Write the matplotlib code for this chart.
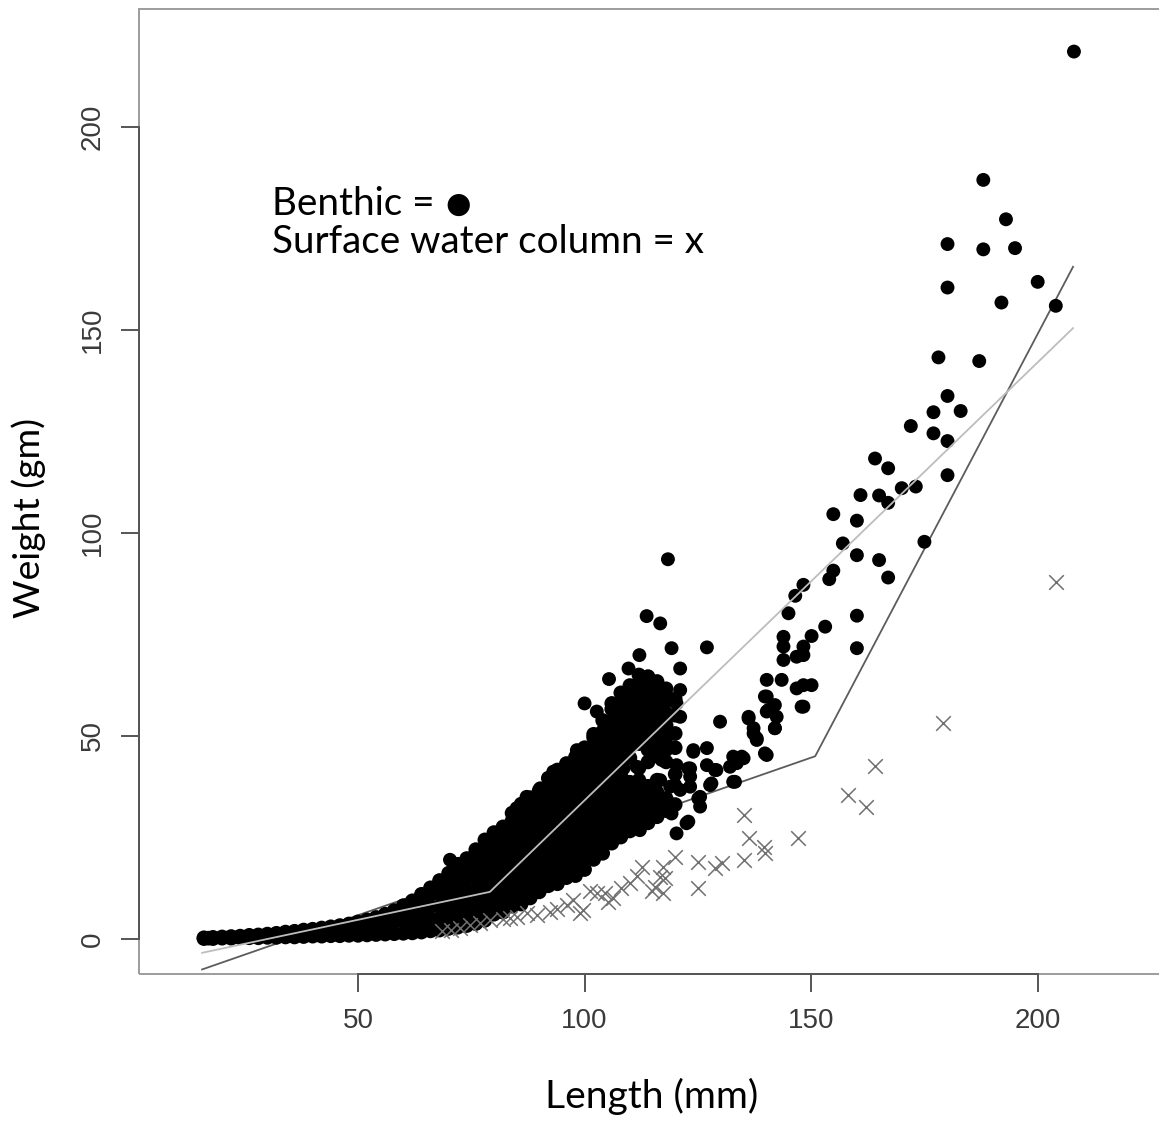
import matplotlib
matplotlib.use("Agg")
import matplotlib.pyplot as plt
from matplotlib.patches import Rectangle

# ---------------- data ----------------
# dense benthic cloud: one column of weights per length
cloud_len = [16, 17, 18, 20, 22, 24, 26, 28, 30, 32, 34, 36, 38, 40, 42, 44, 46, 48,
             50, 52, 54, 56, 58, 60, 62, 64, 66, 68, 70, 72, 74, 76, 78, 80, 82, 84,
             86, 88, 90, 92, 94, 96, 98, 100, 102, 104, 106, 108, 110, 112, 114,
             116, 118, 120]
cloud_wts = [
    [0.1, 0.3], [0.2], [0.1, 0.4], [0.2, 0.5], [0.2, 0.6], [0.3, 0.7], [0.3, 0.9],
    [0.3, 1.0], [0.4, 1.2], [0.4, 1.4], [0.5, 1.7], [0.5, 1.9], [0.6, 2.2],
    [0.7, 2.4], [0.7, 2.7], [0.8, 3.0], [0.8, 2.2, 3.3], [0.9, 2.4, 3.7],
    [0.9, 2.6, 4.2], [1.0, 2.8, 4.7], [1.1, 3.2, 5.3], [1.2, 3.6, 6.1],
    [1.3, 4.2, 7.0], [1.4, 4.4, 7.4, 8.2], [1.5, 3.9, 6.9, 9.4],
    [1.7, 4.5, 7.5, 10.5, 11.0], [2.0, 5.0, 8.0, 11.0, 12.6],
    [2.2, 4.9, 7.9, 10.9, 13.9, 14.4], [2.6, 5.4, 8.4, 11.4, 14.4, 16.2],
    [2.9, 5.9, 8.9, 11.9, 14.9, 17.9, 18.4], [3.3, 6.4, 9.4, 12.4, 15.4, 18.4, 19.8],
    [3.8, 6.1, 9.1, 12.1, 15.1, 18.1, 21.1, 22.0],
    [4.6, 7.6, 10.6, 13.6, 16.6, 19.6, 22.6, 24.4],
    [6.1, 9.1, 12.1, 15.1, 18.1, 21.1, 24.1, 26.2],
    [6.6, 9.6, 12.6, 15.6, 18.6, 21.6, 24.6, 27.6],
    [8.1, 11.1, 14.1, 17.1, 20.1, 23.1, 26.1, 29.1, 31.0],
    [8.6, 11.6, 14.6, 17.6, 20.6, 23.6, 26.6, 29.6, 32.6, 33.2],
    [10.1, 13.1, 16.1, 19.1, 22.1, 25.1, 28.1, 31.1, 34.1, 34.8],
    [11.6, 14.6, 17.6, 20.6, 23.6, 26.6, 29.6, 32.6, 35.6, 36.6],
    [13.1, 16.1, 19.1, 22.1, 25.1, 28.1, 31.1, 34.1, 37.1, 39.6],
    [13.6, 16.6, 19.6, 22.6, 25.6, 28.6, 31.6, 34.6, 37.6, 40.6, 41.6],
    [15.1, 18.1, 21.1, 24.1, 27.1, 30.1, 33.1, 36.1, 39.1, 42.1, 43.2],
    [15.6, 18.6, 21.6, 24.6, 27.6, 30.6, 33.6, 36.6, 39.6, 42.6, 44.8],
    [17.1, 20.1, 23.1, 26.1, 29.1, 32.1, 35.1, 38.1, 41.1, 44.1, 47.1],
    [19.6, 22.6, 25.6, 28.6, 31.6, 34.6, 37.6, 40.6, 43.6, 46.6, 49.6, 50.4],
    [21.1, 24.1, 27.1, 30.1, 33.1, 36.1, 39.1, 42.1, 45.1, 48.1, 51.1, 53.8],
    [23.6, 26.6, 29.6, 32.6, 35.6, 38.6, 41.6, 44.6, 47.6, 50.6, 53.6, 56.6, 58.0],
    [25.1, 28.1, 31.1, 34.1, 37.1, 40.1, 43.1, 46.1, 49.1, 52.1, 55.1, 58.1, 60.6],
    [26.6, 29.6, 32.6, 35.6, 38.6, 44.6, 47.6, 50.6, 53.6, 56.6, 59.6, 62.4],
    [27.1, 30.1, 33.1, 36.1, 39.1, 42.1, 48.1, 51.1, 54.1, 57.1, 60.1, 63.1, 65.0],
    [28.6, 31.6, 34.6, 37.6, 43.6, 46.6, 49.6, 52.6, 55.6, 58.6, 61.6, 64.6],
    [30.1, 33.1, 36.1, 39.1, 45.1, 48.1, 51.1, 54.1, 57.1, 60.1, 63.4],
    [31.6, 34.6, 43.6, 46.6, 49.6, 52.6, 55.6, 58.6, 61.6],
    [33.1, 40.6, 47.1, 50.6, 55.1, 59.1],
]

# scattered benthic fish
benthic_len = [208.0, 188.0, 193.0, 180.1, 188.0, 195.0, 180.1, 200.0, 192.0, 204.0,
               178.1, 187.1, 180.1, 177.0, 183.0, 172.0, 177.0, 180.1, 164.1, 167.0,
               180.1, 170.0, 173.1, 160.9, 165.0, 167.0, 154.9, 160.1, 157.0, 175.0,
               160.1, 165.0, 167.0, 154.9, 154.0, 148.3, 146.5, 160.1, 153.1, 150.1,
               148.3, 148.3, 160.1, 148.3, 150.1, 148.3, 145.0, 143.9, 143.9, 143.9,
               146.8, 140.2, 143.5, 146.8, 139.8, 140.6, 142.4, 142.0, 136.2, 137.3,
               138.0, 129.9, 139.8, 134.7, 133.6, 132.1, 127.0, 124.0, 127.0, 128.8,
               132.8, 128.0, 125.5, 123.3, 123.3, 120.3, 120.0, 121.1, 117.0, 116.7,
               118.9, 117.4, 119.2, 122.9, 120.3, 114.4, 115.5, 117.4, 113.0, 110.4,
               110.0, 108.6, 111.5, 142.0, 147.9, 140.2, 125.1, 125.5, 123.3, 127.7,
               122.5, 112.2, 135.1, 140.2, 113.7, 116.7, 119.2, 127.0, 112.1, 121.1,
               109.7, 105.4, 100.0, 102.7, 121.1, 121.1, 98.3, 120.3, 118.4, 87.2,
               90.2, 93.1, 85.0, 70.3, 122.9, 124.0, 132.8, 129.1, 133.2, 136.2,
               137.3, 138.0, 140.2, 142.0]
benthic_wt = [218.5, 186.9, 177.2, 171.1, 169.8, 170.1, 160.4, 161.8, 156.7, 155.9,
              143.2, 142.3, 133.7, 129.7, 130.0, 126.3, 124.5, 122.6, 118.3, 115.9,
              114.2, 111.0, 111.4, 109.3, 109.2, 107.4, 104.6, 103.0, 97.4, 97.8,
              94.5, 93.3, 89.0, 90.7, 88.6, 87.2, 84.5, 79.6, 76.9, 74.6,
              72.0, 69.9, 71.6, 62.5, 62.5, 57.2, 80.2, 74.4, 72.0, 68.7,
              69.5, 63.8, 63.8, 61.7, 59.7, 56.4, 54.7, 51.9, 54.3, 50.6,
              49.0, 53.5, 45.7, 44.9, 43.3, 42.4, 47.0, 46.1, 42.8, 41.6,
              38.7, 38.3, 35.0, 37.5, 42.0, 42.8, 37.9, 36.7, 44.1, 39.1,
              37.5, 33.4, 30.9, 28.9, 26.0, 33.8, 32.2, 31.8, 29.7, 29.3,
              26.8, 42.0, 42.4, 57.6, 57.2, 56.0, 34.6, 32.6, 40.0, 37.9,
              28.5, 26.8, 44.5, 45.3, 79.5, 77.7, 71.6, 71.8, 69.9, 66.6,
              66.6, 64.0, 58.0, 56.0, 61.3, 54.7, 46.5, 58.0, 93.5, 35.0,
              37.1, 41.2, 32.2, 19.5, 42.0, 46.5, 44.9, 41.6, 38.7, 54.7,
              51.9, 49.4, 59.7, 51.9]

# surface water column fish
surface_len = [204.0, 179.0, 164.1, 158.1, 162.1, 147.0, 135.1, 136.2, 139.5, 139.8,
               135.1, 130.3, 128.8, 125.1, 125.1, 120.0, 117.4, 116.7, 117.8, 115.5,
               117.4, 114.8, 112.6, 110.0, 104.5, 106.3, 105.2, 102.7, 101.2, 96.1,
               99.0, 99.7, 92.4, 89.4, 87.2, 85.0, 79.1, 76.9, 74.7, 72.5,
               70.5, 68.5, 82.0, 83.5, 94.0, 97.5, 108.0, 111.5]
surface_wt = [88.0, 53.1, 42.6, 35.5, 32.6, 24.8, 30.5, 24.8, 22.7, 21.1,
              19.5, 18.6, 17.4, 19.0, 12.5, 20.3, 17.8, 15.3, 14.9, 12.9,
              11.3, 11.7, 17.8, 13.7, 11.3, 10.0, 9.2, 11.3, 11.7, 8.4,
              6.3, 7.1, 6.7, 5.9, 6.3, 5.5, 4.7, 3.9, 3.4, 2.6,
              2.2, 1.9, 4.8, 5.2, 7.5, 9.5, 12.5, 15.5]

# fitted broken-line curves
fit_light_len = [15.6, 79.1, 207.8]
fit_light_wt = [-3.4, 11.6, 150.4]
fit_dark_len = [15.6, 150.9, 207.8]
fit_dark_wt = [-7.5, 45.0, 165.5]

x_ticks = [50, 100, 150, 200]
y_ticks = [0, 50, 100, 150, 200]

# ---------------- figure ----------------
W, H = 1159, 1121
fig = plt.figure(figsize=(W / 100, H / 100), dpi=100)
ax = fig.add_axes([139 / W, (H - 974) / H, (1170 - 139) / W, (974 - 9) / H])
ax.set_xlim(1.67, 229.2)
ax.set_ylim(-8.62, 228.98)

cx, cy = [], []
for L, ws in zip(cloud_len, cloud_wts):
    for w in ws:
        cx.append(L)
        cy.append(w)

# the darker fit line lies under the points, the light one over them
ax.plot(fit_dark_len, fit_dark_wt, color="#5c5c5c", lw=1.3, zorder=2.8)
ax.scatter(cx, cy, s=112, c="black", edgecolors="none", zorder=3)
ax.scatter(benthic_len, benthic_wt, s=100, c="black", edgecolors="none", zorder=3)
ax.scatter(surface_len, surface_wt, s=110, marker="x", c="#707070",
           linewidths=1.1, zorder=3.5)
ax.plot(fit_light_len, fit_light_wt, color="#bdbdbd", lw=1.3, zorder=4)

# frame: light box, darker axis lines between first and last tick
for s in ["top", "right"]:
    ax.spines[s].set_visible(False)
ax.add_patch(Rectangle((0, 0), 1, 1, transform=ax.transAxes, fill=False,
                       edgecolor="#9c9c9c", lw=1.4, clip_on=False, zorder=2.4))
ax.spines["bottom"].set_bounds(x_ticks[0], x_ticks[-1])
ax.spines["left"].set_bounds(y_ticks[0], y_ticks[-1])
for s in ["bottom", "left"]:
    ax.spines[s].set_color("#555555")
    ax.spines[s].set_linewidth(1.4)

ax.set_xticks(x_ticks)
ax.set_yticks(y_ticks)
ax.set_xticklabels([str(v) for v in x_ticks], family="Liberation Sans")
ax.set_yticklabels([str(v) for v in y_ticks], family="Liberation Sans",
                   rotation=90, va="center")
ax.tick_params(direction="out", length=12.7, width=1.4, color="#555555",
               pad=11.5, labelsize=20, labelcolor="#3a3a3a")

# ---------------- texts ----------------
fig.canvas.draw()
rend = fig.canvas.get_renderer()


def fit(t, target_px):
    w = t.get_window_extent(rend).width
    t.set_fontsize(t.get_fontsize() * target_px / w)
    return t.get_fontsize()


FAM = ["Lato", "DejaVu Sans"]
CAP = 0.7165

t_len = fig.text(0, 0, "Length (mm)", family=FAM, fontsize=30)
fs = fit(t_len, 213)
cap = CAP * fs * 100 / 72
t_len.set_position((651.5 / W, 1 - (1080 + cap) / H))
t_len.set_ha("center")
t_len.set_va("baseline")

t_wt = fig.text(0, 0, "Weight (gm)", family=FAM, fontsize=30)
fs = fit(t_wt, 200)
cap = CAP * fs * 100 / 72
t_wt.set_rotation(90)
t_wt.set_rotation_mode("anchor")
t_wt.set_ha("center")
t_wt.set_va("baseline")
t_wt.set_position(((13 + cap) / W, 1 - 518 / H))

t2 = fig.text(271.7 / W, 1 - 253.3 / H, "Surface water column = x", family=FAM,
              fontsize=22, ha="left", va="baseline")
fs = fit(t2, 430)
t1 = fig.text(271.7 / W, 1 - 215 / H, "Benthic =", family=FAM, fontsize=fs,
              ha="left", va="baseline")
fig.text(458.5 / W, 1 - 205 / H, "\u25cf", family="DejaVu Sans", fontsize=21,
         ha="center", va="center")

fig.savefig("out.png", dpi=100)
